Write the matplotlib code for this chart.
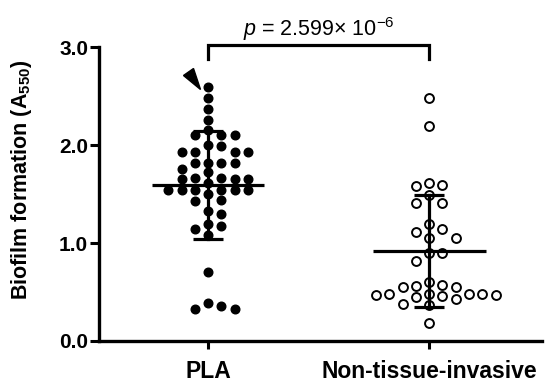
import matplotlib
matplotlib.use("Agg")
import matplotlib.pyplot as plt
import numpy as np
from matplotlib.markers import MarkerStyle
from matplotlib.transforms import Affine2D

plt.rcParams['font.family'] = ['Liberation Sans', 'DejaVu Sans']
plt.rcParams['mathtext.fontset'] = 'custom'
plt.rcParams['mathtext.rm'] = 'Liberation Sans'
plt.rcParams['mathtext.it'] = 'Liberation Sans:italic'
plt.rcParams['mathtext.bf'] = 'Liberation Sans:bold'

categories = ["PLA", "Non-tissue-invasive"]
pla = [2.59, 2.48, 2.37, 2.26, 2.15, 2.10, 2.10, 2.10, 2.00, 1.99, 1.93, 1.93,
       1.93, 1.93, 1.82, 1.82, 1.82, 1.82, 1.76, 1.72, 1.66, 1.65, 1.65, 1.65,
       1.66, 1.61, 1.54, 1.54, 1.54, 1.54, 1.54, 1.54, 1.50, 1.44, 1.43, 1.33,
       1.30, 1.19, 1.17, 1.14, 1.08, 0.70, 0.39, 0.36, 0.33, 0.33]
nti = [2.48, 2.19, 1.61, 1.59, 1.58, 1.49, 1.41, 1.41, 1.19, 1.14, 1.11, 1.05,
       1.05, 0.90, 0.90, 0.82, 0.60, 0.57, 0.56, 0.55, 0.55, 0.48, 0.48, 0.48,
       0.48, 0.47, 0.47, 0.46, 0.45, 0.43, 0.38, 0.37, 0.18]
means = [1.59, 0.92]
sds = [0.55, 0.57]
yticks = [0.0, 1.0, 2.0, 3.0]
p_text = r"$p$ = 2.599× 10$^{\mathrm{-6}}$"


def swarm(vals, spacing=0.06, thr=0.10):
    placed = {}
    offs = np.zeros(len(vals))
    order = np.argsort(vals)[::-1]
    cands = [0]
    for j in range(1, 20):
        cands += [j, -j]
    for i in order:
        v = vals[i]
        for slot in cands:
            if all(abs(v - y) >= thr for y in placed.get(slot, [])):
                placed.setdefault(slot, []).append(v)
                offs[i] = slot * spacing
                break
    return offs


fig = plt.figure(figsize=(5.48, 3.83), dpi=100)
ax = fig.add_axes([0.1800, 0.1097, 0.8090, 0.7673])

x1 = 1 + swarm(pla)
x2 = 2 + swarm(nti)
ax.plot(x1, pla, 'o', color='black', markersize=6.2, zorder=2, clip_on=False)
ax.plot(x2, nti, 'o', markerfacecolor='white', markeredgecolor='black',
        markersize=6.4, markeredgewidth=1.4, zorder=2, clip_on=False)

for i, (m, s) in enumerate(zip(means, sds)):
    xc = i + 1
    ax.plot([xc - 0.255, xc + 0.255], [m, m], color='black', lw=2.3, zorder=3,
            solid_capstyle='butt')
    ax.plot([xc, xc], [m - s, m + s], color='black', lw=2.3, zorder=3)
    for yy in (m - s, m + s):
        ax.plot([xc - 0.068, xc + 0.068], [yy, yy], color='black', lw=2.3,
                zorder=3, solid_capstyle='butt')

# arrowhead marker
tri = MarkerStyle('^', transform=Affine2D().scale(0.75, 1.25).rotate_deg(-145))
ax.plot([0.935], [2.66], marker=tri, color='black', markersize=12, zorder=4,
        clip_on=False)

# significance bracket
ax.plot([1, 1, 2, 2], [2.88, 3.02, 3.02, 2.88], color='black', lw=2.3,
        clip_on=False, zorder=4, solid_joinstyle='miter')
ax.text(1.5, 3.11, p_text, ha='center', va='baseline', fontsize=15.5)

ax.set_xlim(0.505, 2.51)
ax.set_ylim(0, 3.0)
ax.set_yticks(yticks)
ax.set_yticklabels([f"{t:.1f}" for t in yticks], fontweight='bold', fontsize=15)
ax.set_xticks([1, 2])
ax.set_xticklabels(categories, fontweight='bold', fontsize=16.5)
ax.set_ylabel(r"Biofilm formation (A$_{\mathbf{550}}$)", fontweight='bold',
              fontsize=15.5)
ax.yaxis.set_label_coords(-0.145, 0.55)

for side in ('top', 'right'):
    ax.spines[side].set_visible(False)
for side in ('left', 'bottom'):
    ax.spines[side].set_linewidth(2.4)
ax.tick_params(axis='y', direction='out', length=6.5, width=2.2, pad=1)
ax.tick_params(axis='x', direction='out', length=6, width=2.2, pad=8)

fig.savefig("out.png", dpi=100)
